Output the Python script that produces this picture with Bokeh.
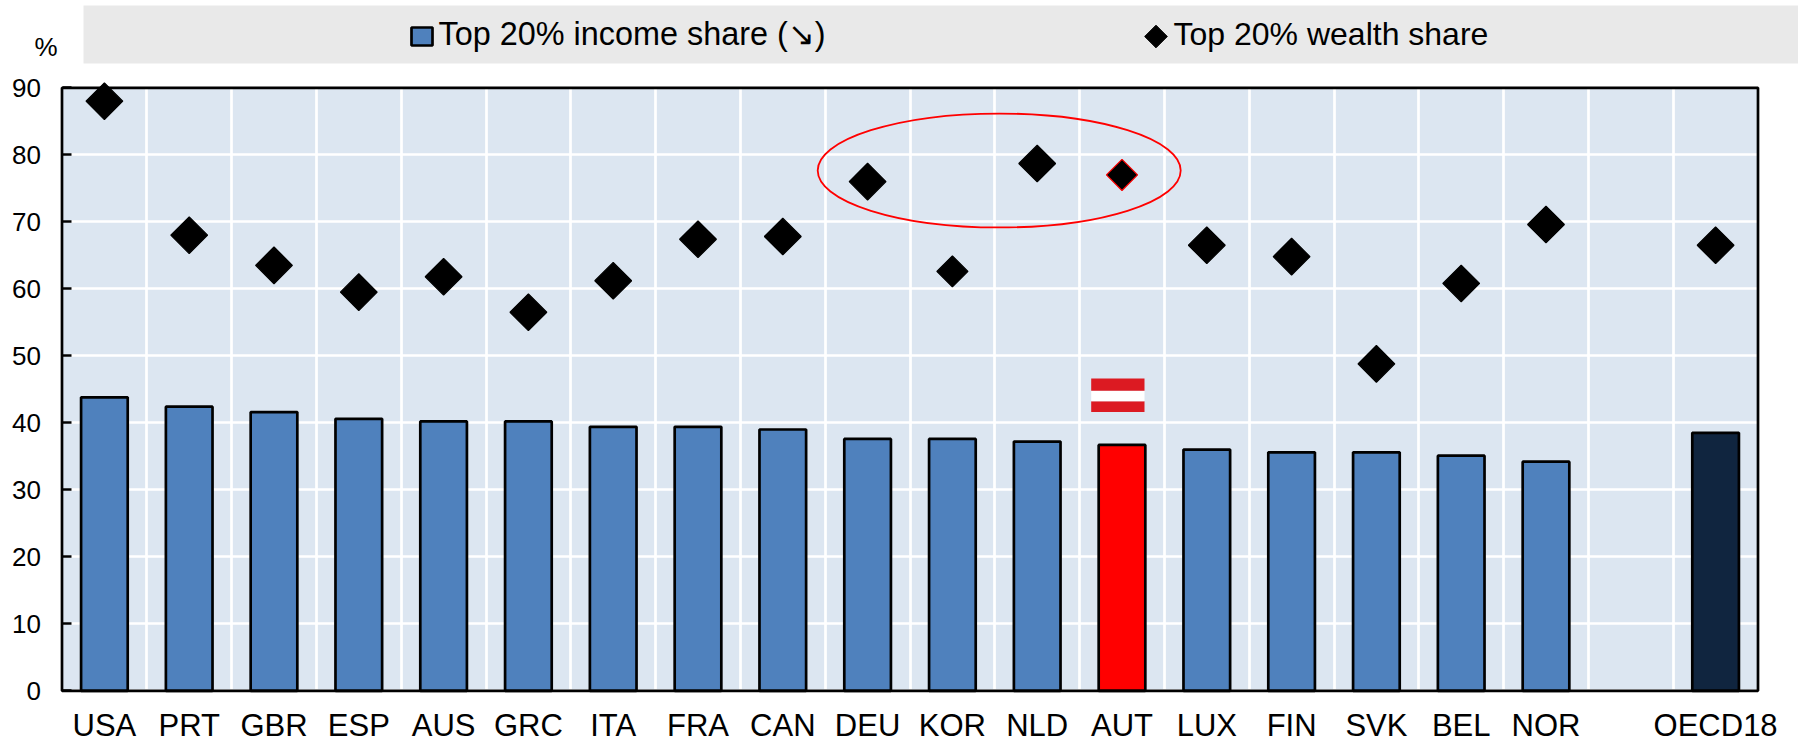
from bokeh.plotting import figure
from bokeh.embed import file_html
from bokeh.resources import INLINE
from bokeh.models import FixedTicker, ColumnDataSource
from bokeh.core.properties import value

countries = ["USA","PRT","GBR","ESP","AUS","GRC","ITA","FRA","CAN","DEU","KOR","NLD","AUT","LUX","FIN","SVK","BEL","NOR","","OECD18"]
income = [43.8,42.4,41.6,40.6,40.2,40.2,39.4,39.4,39.0,37.6,37.6,37.2,36.7,36.0,35.6,35.6,35.1,34.2,None,38.5]
wealth = [88.0,68.0,63.5,59.5,61.8,56.5,61.2,67.4,67.8,76.0,62.6,78.7,77.0,66.5,64.8,48.8,60.8,69.6,None,66.5]
diamond_sizes = [26,26,26,26,26,26,26,26,26,26,22,26,22,26,26,26,26,26,0,26]
diamond_lines = ["black"]*12 + ["#ff0000"] + ["black"]*7
bar_colors = ["#4f81bd"]*12 + ["#ff0000"] + ["#4f81bd"]*6 + ["#10253f"]
y_ticks = [0,10,20,30,40,50,60,70,80,90]
flag_b = [41.6, 43.2, 44.8]
flag_t = [43.2, 44.8, 46.6]
flag_c = ["#dc1a22", "#ffffff", "#dc1a22"]

FONT = "Liberation Sans"
W, H = 1798, 743
X0, XS = 61.5, 84.8      # pixel of x=0, pixels per slot
Y0, YS = 690.3, 6.7      # pixel of y=0, pixels per unit

def dx(px):
    return (px - X0) / XS

def dy(py):
    return (Y0 - py) / YS

pos = [i + 0.5 for i in range(len(countries))]
idx = [i for i, v in enumerate(income) if v is not None]

p = figure(width=W, height=H, x_range=(dx(0), dx(W)), y_range=(dy(H), dy(0)), output_backend="svg",
           toolbar_location=None, min_border=0, background_fill_color="white", outline_line_color=None, margin=0)

p.xgrid.ticker = FixedTicker(ticks=list(range(1, 20)))
p.ygrid.ticker = FixedTicker(ticks=y_ticks)
for g in (p.xgrid, p.ygrid):
    g.grid_line_color = "white"
    g.grid_line_width = 2.7

# plot area and legend band (drawn under the grid)
p.quad(left=[0], right=[20], bottom=[0], top=[90], fill_color="#dce6f1", line_color=None, level="image")
p.quad(left=[dx(83)], right=[dx(W)], top=[dy(5)], bottom=[dy(63)], fill_color="#e9e9e9", line_color=None, level="glyph")

p.xaxis.fixed_location = 0
p.xaxis.bounds = (0, 20)
p.xaxis.ticker = FixedTicker(ticks=[pos[i] for i in range(len(countries)) if countries[i]])
p.xaxis.major_label_overrides = {pos[i]: countries[i] for i in range(len(countries)) if countries[i]}
p.xaxis.major_tick_line_color = None
p.xaxis.minor_tick_line_color = None
p.xaxis.axis_line_color = None
p.xaxis.major_label_text_font = FONT
p.xaxis.major_label_text_font_size = "31px"
p.xaxis.major_label_text_color = "black"
p.xaxis.major_label_text_line_height = 1.0
p.xaxis.major_label_standoff = 11

p.yaxis.fixed_location = 0
p.yaxis.bounds = (0, 90)
p.yaxis.ticker = FixedTicker(ticks=y_ticks)
p.yaxis.major_tick_in = 9
p.yaxis.major_tick_out = 0
p.yaxis.major_tick_line_width = 2.7
p.yaxis.major_tick_line_color = "black"
p.yaxis.minor_tick_line_color = None
p.yaxis.axis_line_color = None
p.yaxis.major_label_text_font = FONT
p.yaxis.major_label_text_font_size = "26px"
p.yaxis.major_label_text_color = "black"
p.yaxis.major_label_standoff = 21

bars = ColumnDataSource(dict(x=[pos[i] for i in idx], top=[income[i] for i in idx], c=[bar_colors[i] for i in idx]))
p.vbar(x="x", top="top", bottom=0, width=0.55, fill_color="c", line_color="black", line_width=2.7, source=bars)

# frame
p.quad(left=[0], right=[20], bottom=[0], top=[90], fill_color=None, line_color="black", line_width=2.7)

dots = ColumnDataSource(dict(x=[pos[i] for i in idx], y=[wealth[i] for i in idx],
                             s=[diamond_sizes[i] for i in idx], lc=[diamond_lines[i] for i in idx]))
p.scatter(x="x", y="y", size="s", marker="square", angle=0.785398, fill_color="black", line_color="lc",
          line_width=1.2, source=dots)

# highlight ellipse around the DEU / NLD / AUT group
p.ellipse(x=[dx(998.7)], y=[dy(170)], width=[363 / XS], height=[114 / YS], fill_color=None,
          line_color="#ff0000", line_width=1.8)

# Austrian flag above the AUT bar
p.quad(left=[dx(1090.7)]*3, right=[dx(1144)]*3, bottom=flag_b, top=flag_t, fill_color=flag_c, line_color=None)

# legend
p.quad(left=[dx(411)], right=[dx(432)], top=[dy(27)], bottom=[dy(45)], fill_color="#4f81bd", line_color="black", line_width=2.7)
p.scatter(x=[dx(1155.5)], y=[dy(36)], size=16, marker="square", angle=0.785398, fill_color="black", line_color="black")
p.text(x=[dx(438)], y=[dy(33.5)], text=["Top 20% income share (\u2198)"], text_font=value(FONT), text_font_size="32.4px",
       text_color="black", text_baseline="alphabetic")
p.text(x=[dx(1173)], y=[dy(33.5)], text=["Top 20% wealth share"], text_font=value(FONT), text_font_size="32px",
       text_color="black", text_baseline="alphabetic")
p.text(x=[dx(34)], y=[dy(46)], text=["%"], text_font=value(FONT), text_font_size="26px",
       text_color="black", text_baseline="alphabetic")

open("out.html", "w").write(file_html(p, INLINE))
